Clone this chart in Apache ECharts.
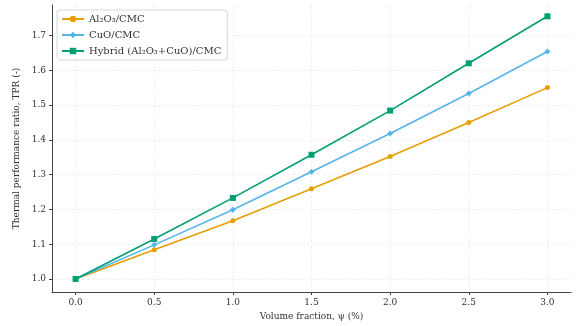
<!DOCTYPE html>
<html>
<head>
<meta charset="utf-8">
<script src="https://cdn.jsdelivr.net/npm/echarts@6/dist/echarts.min.js"></script>
<style>
  html, body { margin: 0; padding: 0; background: #fff; }
  #main { width: 586px; height: 326px; }
</style>
</head>
<body>
<div id="main"></div>
<script>
  // volume fraction (%) and TPR values
  var phi = [0.0, 0.5, 1.0, 1.5, 2.0, 2.5, 3.0];
  var al2o3 = [1.0, 1.084, 1.167, 1.259, 1.352, 1.45, 1.55];
  var cuo = [1.0, 1.098, 1.199, 1.308, 1.418, 1.533, 1.654];
  var hybrid = [1.0, 1.115, 1.233, 1.357, 1.484, 1.62, 1.755];
  var xTicks = [0.0, 0.5, 1.0, 1.5, 2.0, 2.5, 3.0];
  var yTicks = [1.0, 1.1, 1.2, 1.3, 1.4, 1.5, 1.6, 1.7];

  var names = ['Al₂O₃/CMC', 'CuO/CMC', 'Hybrid (Al₂O₃+CuO)/CMC'];
  var colors = ['#E69F00', '#56B4E9', '#009E73'];
  var symbols = ['circle', 'diamond', 'rect'];
  var sizes = [5, 6, 6];
  var values = [al2o3, cuo, hybrid];

  function pairs(ys) {
    return phi.map(function (x, i) { return [x, ys[i]]; });
  }

  var font = 'DejaVu Serif';
  var myChart = echarts.init(document.getElementById('main'));
  var option = {
    animation: false,
    textStyle: { fontFamily: font },
    grid: { left: 52, right: 15, top: 5, bottom: 33 },
    legend: {
      left: 57,
      top: 10,
      orient: 'vertical',
      itemGap: 6,
      itemWidth: 22,
      itemHeight: 8,
      padding: [4, 6, 4, 4],
      borderColor: '#d8d8d8',
      borderWidth: 1,
      borderRadius: 3,
      backgroundColor: '#fff',
      textStyle: { fontFamily: font, fontSize: 10, color: '#333' },
      data: names
    },
    xAxis: {
      type: 'value',
      min: -0.15,
      max: 3.15,
      name: 'Volume fraction, ψ (%)',
      nameLocation: 'middle',
      nameGap: 20,
      nameTextStyle: { fontFamily: font, fontSize: 9, color: '#333' },
      axisLine: { onZero: false, lineStyle: { color: '#444', width: 1 } },
      axisTick: { show: true, length: 3, customValues: xTicks, lineStyle: { color: '#444' } },
      axisLabel: {
        customValues: xTicks, fontSize: 9, color: '#333', margin: 6,
        formatter: function (v) { return v.toFixed(1); }
      },
      splitLine: { show: true, lineStyle: { color: '#ececec', width: 0.8, type: [3, 2] } }
    },
    yAxis: {
      type: 'value',
      min: 0.9625,
      max: 1.7875,
      name: 'Thermal performance ratio, TPR (-)',
      nameLocation: 'middle',
      nameGap: 27,
      nameTextStyle: { fontFamily: font, fontSize: 9, color: '#333' },
      axisLine: { show: true, onZero: false, lineStyle: { color: '#444', width: 1 } },
      axisTick: { show: true, length: 3, customValues: yTicks, lineStyle: { color: '#444' } },
      axisLabel: {
        customValues: yTicks, fontSize: 9, color: '#333', margin: 6,
        formatter: function (v) { return v.toFixed(1); }
      },
      splitLine: { show: true, lineStyle: { color: '#ececec', width: 0.8, type: [3, 2] } }
    },
    series: names.map(function (n, i) {
      return {
        name: n,
        type: 'line',
        data: pairs(values[i]),
        symbol: symbols[i],
        symbolSize: sizes[i],
        showAllSymbol: true,
        z: 3 + i,
        lineStyle: { color: colors[i], width: 1.6 },
        itemStyle: { color: colors[i] }
      };
    })
  };
  myChart.setOption(option);
</script>
</body>
</html>
